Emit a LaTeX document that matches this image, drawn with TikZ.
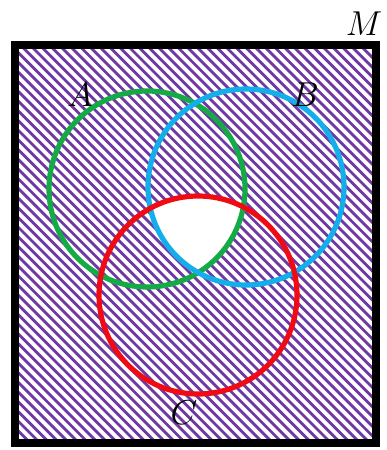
\documentclass[tikz,border=0pt]{standalone}
\usepackage{tikz}
\definecolor{VennPurple}{RGB}{112,56,165}
\definecolor{VennGreen}{RGB}{20,170,70}
\definecolor{VennCyan}{RGB}{20,175,235}
\definecolor{VennRed}{RGB}{240,10,20}

\begin{document}
\begin{tikzpicture}[x=0.5pt, y=-0.5pt,
          setline/.style={line width=2.6pt},
          hatch/.style={VennPurple, line width=1.4pt},
          lbl/.style={font=\fontsize{16}{16}\selectfont, inner sep=0pt}
        ]
        \useasboundingbox (0,0) rectangle (386,450);
        \coordinate (cA) at (147,189);
        \coordinate (cB) at (246,187);
        \coordinate (cC) at (198,295);

        % hatching of the universe
        \begin{scope}
          \clip (15,45) rectangle (376,443);
          \foreach \s in {-500,-490.3,...,400}
            \draw[hatch] (\s,0) -- ++(520,520);
        \end{scope}

        % A n B n C left blank
        \begin{scope}
          \clip (cA) circle (98);
          \clip (cB) circle (98);
          \fill[white] (cC) circle (99);
        \end{scope}

        \draw[line width=3.6pt] (15,45) rectangle (376,443);
        \draw[setline, VennGreen] (cA) circle (98);
        \draw[setline, VennCyan]  (cB) circle (98);
        \draw[setline, VennRed]   (cC) circle (99);

        \node[lbl] (labA) at (80,95)  {$A$};
        \node[lbl] (labB) at (305,95) {$B$};
        \node[lbl] (labC) at (184,413) {$C$};
        \node[lbl] (labM) at (364,24) {$M$};
      \end{tikzpicture}
\end{document}
